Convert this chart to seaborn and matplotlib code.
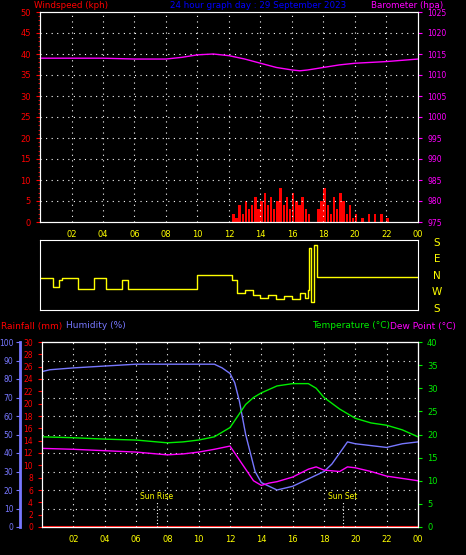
import matplotlib
matplotlib.use("Agg")
import matplotlib.pyplot as plt
import seaborn as sns
import numpy as np
import pandas as pd

sns.set_style("dark")
plt.rcParams['font.family'] = ['DejaVu Sans']

baro_h = [0, 2, 4, 6, 8, 9, 10, 11, 12, 13, 14, 15, 16, 16.5, 17, 18, 19, 20, 21, 22, 23, 24]
baro_v = [1014, 1014, 1014, 1013.8, 1013.8, 1014.2, 1014.8, 1015, 1014.6, 1013.8, 1012.8, 1011.8, 1011.2, 1011, 1011.2, 1011.8, 1012.4, 1012.8, 1013, 1013.2, 1013.5, 1013.8]

gust_h = [12.2, 12.4, 12.6, 12.8, 13.0, 13.2, 13.4, 13.6, 13.8, 14.0, 14.2, 14.4, 14.6, 14.8, 15.0, 15.2, 15.4, 15.6, 15.8, 16.0, 16.2, 16.4, 16.6, 16.8, 17.0,
          17.6, 17.8, 18.0, 18.2, 18.4, 18.6, 18.8, 19.0, 19.2, 19.4, 19.6, 19.8, 20.0, 20.4, 20.8, 21.2, 21.6, 22.0]
gust_v = [2, 1, 4, 2, 5, 3, 4, 6, 3, 5, 7, 4, 6, 3, 5, 8, 4, 6, 3, 7, 5, 4, 6, 3, 2,
          3, 5, 8, 4, 2, 6, 3, 7, 5, 2, 4, 1, 2, 1, 2, 2, 2, 1]

dir_h = [0, 0.6, 0.8, 1.2, 1.4, 2.0, 2.4, 3.2, 3.4, 3.8, 4.2, 4.4, 5.0, 5.2, 5.6, 6.0, 7.0, 8.0, 8.2, 9.0, 10.0, 10.4, 12.0, 12.2, 12.5, 13.0, 13.5, 14.0, 14.5, 15.0, 15.5, 16.0, 16.5, 16.8, 17.0, 17.1, 17.2, 17.4, 17.6, 18.0, 20.0, 22.0, 24.0]
dir_v = [2.2, 2.2, 2.8, 2.3, 2.2, 2.2, 2.9, 2.9, 2.2, 2.2, 2.9, 2.9, 2.9, 2.3, 2.9, 2.9, 2.9, 2.9, 2.9, 2.9, 2.0, 2.0, 2.0, 2.3, 3.2, 3.0, 3.3, 3.5, 3.3, 3.6, 3.4, 3.6, 3.2, 3.5, 3.0, 0.2, 3.8, 0.0, 2.1, 2.1, 2.1, 2.1, 2.1]

hum_h = [0, 0.5, 2, 4, 6, 8, 10, 11, 11.5, 12, 12.3, 12.6, 13, 13.3, 13.6, 14, 14.5, 15, 15.5, 16, 16.5, 17, 17.5, 18, 18.5, 19, 19.5, 20, 21, 22, 23, 24]
hum_v = [84, 85, 86, 87, 88, 88, 88, 88, 86, 83, 78, 68, 50, 40, 30, 24, 22, 20, 21, 22, 24, 26, 28, 30, 34, 40, 46, 45, 44, 43, 45, 46]

temp_h = [0, 2, 4, 6, 8, 9, 10, 11, 12, 12.5, 13, 13.5, 14, 15, 16, 17, 17.5, 18, 19, 20, 21, 22, 23, 24]
temp_v = [19.5, 19.3, 19, 18.8, 18.2, 18.4, 18.8, 19.5, 21.5, 24, 26.5, 28, 29, 30.5, 31, 31, 30, 28, 25.5, 23.5, 22.5, 22, 21, 19.5]

dew_h = [0, 2, 4, 6, 8, 9, 10, 11, 12, 12.5, 13, 13.5, 14, 14.5, 15, 16, 17, 17.5, 18, 19, 19.5, 20, 21, 22, 23, 24]
dew_v = [17, 16.8, 16.5, 16.2, 15.6, 15.8, 16.2, 16.8, 17.5, 15, 12.5, 10, 9, 9.5, 9.8, 10.8, 12.5, 13, 12.3, 12, 13, 12.8, 12, 11, 10.5, 10]

rain_h = [0, 24]
rain_v = [0, 0]

hour_labels = ["02", "04", "06", "08", "10", "12", "14", "16", "18", "20", "22", "00"]

W, H = 466, 555
fig = plt.figure(figsize=(W / 100, H / 100), dpi=100, facecolor="black")

def pax(x0, y0, x1, y1):
    return fig.add_axes([x0 / W, 1 - y1 / H, (x1 - x0) / W, (y1 - y0) / H])

def style(ax):
    ax.set_facecolor("black")
    for s in ax.spines.values():
        s.set_color("white")
    ax.set_xlim(0, 24)
    ax.set_xticks(range(2, 25, 2))
    ax.set_xlabel(""); ax.set_ylabel("")
    ax.grid(False)

fs = 6

# top panel
ax1 = pax(40, 12, 418, 222)
style(ax1)
ax1.bar(gust_h, gust_v, width=0.15, color="red", align="edge", edgecolor="none", linewidth=0)
ax1.set_ylim(0, 50)
ax1.set_yticks(range(0, 51, 5))
ax1.tick_params(axis="y", colors="red", labelsize=fs, length=3)
ax1.set_yticks(range(0, 51, 1), minor=True)
ax1.tick_params(axis="y", which="minor", colors="red", length=1.5)
ax1.set_xticklabels(hour_labels)
ax1.tick_params(axis="x", colors="yellow", labelsize=fs, length=2)
for x in range(2, 24, 2):
    ax1.axvline(x, color="white", ls=(0, (1, 4)), lw=0.8)
for y in range(5, 50, 5):
    ax1.axhline(y, color="white", ls=(0, (1, 4)), lw=0.8)
ax1b = ax1.twinx()
sns.lineplot(x=baro_h, y=baro_v, ax=ax1b, color="magenta", lw=1)
ax1b.set_ylim(975, 1025)
ax1b.set_yticks(range(975, 1026, 5))
ax1b.tick_params(axis="y", colors="magenta", labelsize=5.5, length=3)
ax1b.grid(False)
for s in ax1b.spines.values():
    s.set_color("white")
fig.text(34 / W, 1 - 5 / H, "Windspeed (kph)", color="red", fontsize=6.3, va="center")
fig.text(170 / W, 1 - 5 / H, "24 hour graph day : 29 September 2023", color="blue", fontsize=6.3, va="center")
fig.text(371 / W, 1 - 5 / H, "Barometer (hpa)", color="magenta", fontsize=6.3, va="center")

# wind direction panel
ax2 = pax(40, 240, 418, 310)
style(ax2)
sns.lineplot(x=dir_h, y=dir_v, ax=ax2, color="yellow", lw=1, drawstyle="steps-post")
ax2.set_ylim(4.3, -0.3)
ax2.set_xticks([])
ax2.set_yticks([])
for i, lab in enumerate(["S", "E", "N", "W", "S"]):
    fig.text(437 / W, 1 - (243 + i * 16.5) / H, lab, color="yellow", fontsize=7.5, ha="center", va="center")

# bottom panel
ax3 = pax(42, 342, 418, 527)
style(ax3)
sns.lineplot(x=rain_h, y=rain_v, ax=ax3, color="red", lw=1.5)
ax3.set_ylim(0, 30)
ax3.set_yticks(range(0, 31, 2))
ax3.tick_params(axis="y", colors="red", labelsize=5.5, length=3)
ax3.set_xticklabels(hour_labels)
ax3.tick_params(axis="x", colors="yellow", labelsize=fs, length=2)
for x in range(2, 24, 2):
    ax3.axvline(x, color="white", ls=(0, (1, 4)), lw=0.8)
for y in range(3, 30, 3):
    ax3.axhline(y, color="white", ls=(0, (1, 4)), lw=0.8)

axh = ax3.twinx()
axh.yaxis.tick_left()
axh.spines["left"].set_position(("outward", 16))
axh.spines["left"].set_color("#7777ff")
axh.spines["left"].set_linewidth(2)
sns.lineplot(x=hum_h, y=hum_v, ax=axh, color="#7777ff", lw=1)
axh.set_ylim(0, 100)
axh.set_yticks(range(0, 101, 10))
axh.tick_params(axis="y", colors="#7777ff", labelsize=5.5, length=3, pad=1.5)
axh.set_xlabel(""); axh.set_ylabel(""); axh.grid(False)

axt = ax3.twinx()
sns.lineplot(x=temp_h, y=temp_v, ax=axt, color="#00ee00", lw=1)
sns.lineplot(x=dew_h, y=dew_v, ax=axt, color="magenta", lw=1)
axt.set_ylim(0, 40)
axt.set_yticks(range(0, 41, 5))
axt.tick_params(axis="y", colors="#00ee00", labelsize=fs, length=3)
axt.set_xlabel(""); axt.set_ylabel(""); axt.grid(False)
for s in ["top", "right", "bottom"]:
    axt.spines[s].set_color("white")

for hx, lab in [(7.33, "Sun Rise"), (19.2, "Sun Set")]:
    ax3.plot([hx, hx], [0, 4.2], color="white", ls=(0, (1, 2)), lw=0.8)
    ax3.text(hx, 5, lab, color="yellow", fontsize=5.5, ha="center", va="center")

fig.text(1 / W, 1 - 326 / H, "Rainfall (mm)", color="red", fontsize=6.5, va="center")
fig.text(66 / W, 1 - 326 / H, "Humidity (%)", color="#7777ff", fontsize=6.5, va="center")
fig.text(312 / W, 1 - 326 / H, "Temperature (°C)", color="#00ee00", fontsize=6.5, va="center")
fig.text(390 / W, 1 - 326 / H, "Dew Point (°C)", color="magenta", fontsize=6.5, va="center")

fig.savefig("out.png", dpi=100, facecolor="black")
